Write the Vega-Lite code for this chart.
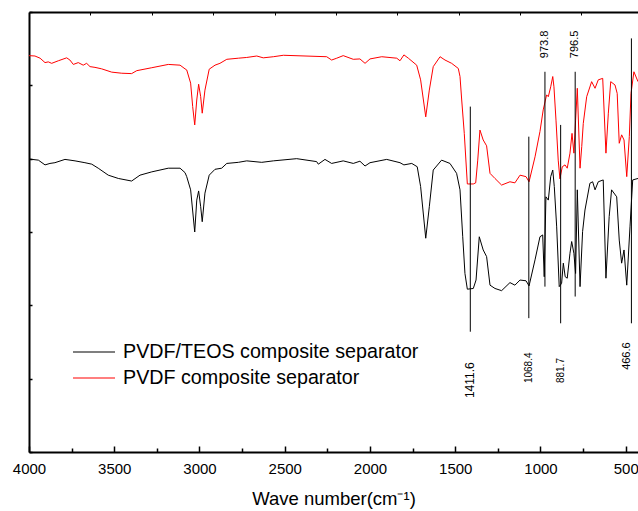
{
  "$schema": "https://vega.github.io/schema/vega-lite/v6.json",
  "width": 609,
  "height": 440,
  "autosize": {"type": "none"},
  "padding": {"left": 29, "top": 12, "right": 0, "bottom": 59},
  "background": "white",
  "config": {
    "view": {"stroke": null},
    "font": "Liberation Sans",
    "axis": {"grid": false, "domainColor": "black", "tickColor": "black", "labelColor": "black", "titleColor": "black"}
  },
  "datasets": {
    "teos": [
      {"wn": 4000, "T": 79.9}, {"wn": 3945, "T": 79.6}, {"wn": 3906, "T": 78.3}, {"wn": 3877, "T": 78.7},
      {"wn": 3848, "T": 78.9}, {"wn": 3789, "T": 79.8}, {"wn": 3730, "T": 79.4}, {"wn": 3672, "T": 78.9},
      {"wn": 3632, "T": 78.5}, {"wn": 3594, "T": 77.4}, {"wn": 3535, "T": 75.5}, {"wn": 3476, "T": 74.6},
      {"wn": 3398, "T": 73.9}, {"wn": 3349, "T": 75.5}, {"wn": 3280, "T": 76.4}, {"wn": 3183, "T": 77.4},
      {"wn": 3114, "T": 77.4}, {"wn": 3085, "T": 76.2}, {"wn": 3075, "T": 75.1}, {"wn": 3052, "T": 71.5},
      {"wn": 3028, "T": 60.0}, {"wn": 3016, "T": 68.7}, {"wn": 3005, "T": 71.2}, {"wn": 2993, "T": 66.9},
      {"wn": 2984, "T": 62.8}, {"wn": 2968, "T": 70.6}, {"wn": 2943, "T": 75.5}, {"wn": 2909, "T": 77.1},
      {"wn": 2870, "T": 77.4}, {"wn": 2840, "T": 78.7}, {"wn": 2772, "T": 79.0}, {"wn": 2723, "T": 79.4},
      {"wn": 2635, "T": 79.0}, {"wn": 2567, "T": 79.4}, {"wn": 2430, "T": 80.0}, {"wn": 2313, "T": 79.2},
      {"wn": 2303, "T": 78.5}, {"wn": 2264, "T": 79.8}, {"wn": 2225, "T": 78.7}, {"wn": 2176, "T": 79.2},
      {"wn": 2157, "T": 79.4}, {"wn": 2098, "T": 78.7}, {"wn": 2059, "T": 79.3}, {"wn": 2029, "T": 78.0},
      {"wn": 2000, "T": 78.9}, {"wn": 1902, "T": 79.8}, {"wn": 1824, "T": 78.9}, {"wn": 1801, "T": 78.3},
      {"wn": 1755, "T": 78.7}, {"wn": 1723, "T": 77.8}, {"wn": 1703, "T": 72.4}, {"wn": 1673, "T": 58.3},
      {"wn": 1652, "T": 66.9}, {"wn": 1629, "T": 76.9}, {"wn": 1580, "T": 79.6}, {"wn": 1531, "T": 78.7},
      {"wn": 1492, "T": 76.0}, {"wn": 1472, "T": 71.5}, {"wn": 1456, "T": 58.7}, {"wn": 1443, "T": 48.7},
      {"wn": 1429, "T": 44.4}, {"wn": 1394, "T": 44.6}, {"wn": 1378, "T": 46.9}, {"wn": 1359, "T": 58.7},
      {"wn": 1336, "T": 55.1}, {"wn": 1316, "T": 53.3}, {"wn": 1296, "T": 45.5}, {"wn": 1267, "T": 44.6},
      {"wn": 1228, "T": 44.0}, {"wn": 1179, "T": 46.2}, {"wn": 1150, "T": 45.5}, {"wn": 1120, "T": 46.9},
      {"wn": 1085, "T": 46.7}, {"wn": 1067, "T": 45.3}, {"wn": 1032, "T": 52.4}, {"wn": 1003, "T": 58.7},
      {"wn": 987, "T": 59.2}, {"wn": 978, "T": 47.8}, {"wn": 968, "T": 69.6}, {"wn": 954, "T": 68.7},
      {"wn": 940, "T": 75.1}, {"wn": 928, "T": 76.9}, {"wn": 919, "T": 72.4}, {"wn": 905, "T": 61.4},
      {"wn": 890, "T": 45.1}, {"wn": 876, "T": 46.0}, {"wn": 866, "T": 51.5}, {"wn": 855, "T": 47.8},
      {"wn": 843, "T": 47.4}, {"wn": 827, "T": 54.2}, {"wn": 817, "T": 57.4}, {"wn": 804, "T": 54.2},
      {"wn": 794, "T": 48.7}, {"wn": 784, "T": 71.5}, {"wn": 768, "T": 45.1}, {"wn": 753, "T": 60.1},
      {"wn": 739, "T": 66.0}, {"wn": 710, "T": 73.3}, {"wn": 694, "T": 73.7}, {"wn": 680, "T": 71.5},
      {"wn": 661, "T": 73.7}, {"wn": 632, "T": 74.2}, {"wn": 616, "T": 47.4}, {"wn": 597, "T": 64.2},
      {"wn": 583, "T": 71.5}, {"wn": 553, "T": 69.6}, {"wn": 538, "T": 57.8}, {"wn": 524, "T": 51.5},
      {"wn": 510, "T": 55.1}, {"wn": 494, "T": 45.5}, {"wn": 475, "T": 61.4}, {"wn": 459, "T": 74.2},
      {"wn": 428, "T": 74.6}
    ],
    "pvdf": [
      {"wn": 4000, "T": 108.1}, {"wn": 3965, "T": 108.0}, {"wn": 3935, "T": 107.4}, {"wn": 3906, "T": 106.2},
      {"wn": 3887, "T": 106.4}, {"wn": 3867, "T": 106.0}, {"wn": 3828, "T": 106.7}, {"wn": 3779, "T": 107.5},
      {"wn": 3760, "T": 106.9}, {"wn": 3740, "T": 105.7}, {"wn": 3711, "T": 106.2}, {"wn": 3682, "T": 105.5},
      {"wn": 3662, "T": 106.0}, {"wn": 3642, "T": 105.1}, {"wn": 3613, "T": 104.9}, {"wn": 3574, "T": 104.5},
      {"wn": 3515, "T": 103.6}, {"wn": 3456, "T": 103.3}, {"wn": 3398, "T": 103.2}, {"wn": 3368, "T": 104.0},
      {"wn": 3280, "T": 104.8}, {"wn": 3183, "T": 105.7}, {"wn": 3114, "T": 105.5}, {"wn": 3085, "T": 104.5},
      {"wn": 3075, "T": 104.2}, {"wn": 3052, "T": 100.6}, {"wn": 3040, "T": 94.2}, {"wn": 3028, "T": 89.2},
      {"wn": 3016, "T": 96.0}, {"wn": 3005, "T": 100.3}, {"wn": 2993, "T": 96.9}, {"wn": 2984, "T": 92.4},
      {"wn": 2968, "T": 98.7}, {"wn": 2943, "T": 104.4}, {"wn": 2909, "T": 105.5}, {"wn": 2880, "T": 106.0},
      {"wn": 2840, "T": 107.1}, {"wn": 2772, "T": 107.4}, {"wn": 2723, "T": 107.6}, {"wn": 2664, "T": 108.0},
      {"wn": 2626, "T": 107.5}, {"wn": 2567, "T": 107.8}, {"wn": 2508, "T": 108.2}, {"wn": 2254, "T": 107.8},
      {"wn": 2225, "T": 106.9}, {"wn": 2195, "T": 107.4}, {"wn": 2157, "T": 108.1}, {"wn": 2098, "T": 107.1},
      {"wn": 2059, "T": 107.2}, {"wn": 2029, "T": 106.0}, {"wn": 2000, "T": 107.2}, {"wn": 1931, "T": 107.8},
      {"wn": 1843, "T": 107.4}, {"wn": 1824, "T": 106.7}, {"wn": 1801, "T": 108.3}, {"wn": 1775, "T": 107.4},
      {"wn": 1726, "T": 105.5}, {"wn": 1703, "T": 101.5}, {"wn": 1673, "T": 91.4}, {"wn": 1652, "T": 98.7},
      {"wn": 1629, "T": 105.1}, {"wn": 1589, "T": 107.8}, {"wn": 1560, "T": 106.9}, {"wn": 1521, "T": 106.0},
      {"wn": 1482, "T": 104.6}, {"wn": 1472, "T": 102.4}, {"wn": 1462, "T": 96.0}, {"wn": 1447, "T": 86.9},
      {"wn": 1429, "T": 73.1}, {"wn": 1394, "T": 73.1}, {"wn": 1380, "T": 73.4}, {"wn": 1368, "T": 79.6},
      {"wn": 1355, "T": 87.8}, {"wn": 1336, "T": 85.1}, {"wn": 1316, "T": 83.5}, {"wn": 1296, "T": 76.0},
      {"wn": 1267, "T": 74.6}, {"wn": 1228, "T": 72.8}, {"wn": 1179, "T": 73.7}, {"wn": 1150, "T": 73.4},
      {"wn": 1120, "T": 75.5}, {"wn": 1085, "T": 75.1}, {"wn": 1067, "T": 73.7}, {"wn": 1032, "T": 80.5},
      {"wn": 1003, "T": 87.4}, {"wn": 984, "T": 93.3}, {"wn": 964, "T": 97.4}, {"wn": 954, "T": 96.9},
      {"wn": 940, "T": 99.6}, {"wn": 928, "T": 102.4}, {"wn": 921, "T": 99.6}, {"wn": 909, "T": 90.5},
      {"wn": 896, "T": 79.6}, {"wn": 886, "T": 74.5}, {"wn": 872, "T": 77.8}, {"wn": 856, "T": 78.3},
      {"wn": 843, "T": 77.4}, {"wn": 827, "T": 81.5}, {"wn": 815, "T": 86.9}, {"wn": 804, "T": 81.5},
      {"wn": 794, "T": 90.5}, {"wn": 784, "T": 99.2}, {"wn": 768, "T": 77.4}, {"wn": 758, "T": 83.3},
      {"wn": 749, "T": 89.6}, {"wn": 729, "T": 96.9}, {"wn": 700, "T": 101.0}, {"wn": 680, "T": 99.2},
      {"wn": 661, "T": 101.5}, {"wn": 635, "T": 101.9}, {"wn": 616, "T": 81.5}, {"wn": 602, "T": 92.4},
      {"wn": 588, "T": 101.0}, {"wn": 563, "T": 100.1}, {"wn": 550, "T": 97.8}, {"wn": 538, "T": 84.2},
      {"wn": 524, "T": 86.5}, {"wn": 510, "T": 85.1}, {"wn": 494, "T": 75.1}, {"wn": 479, "T": 86.0},
      {"wn": 469, "T": 97.8}, {"wn": 452, "T": 103.7}, {"wn": 428, "T": 101.0}
    ],
    "peaks": [
      {"label": "1411.6", "wn": 1411.6, "top": 94.2, "bottom": 32.8, "labelY": 14.7},
      {"label": "1068.4", "wn": 1068.4, "top": 86.0, "bottom": 36.5, "labelY": 18.8},
      {"label": "973.8", "wn": 973.8, "top": 103.7, "bottom": 45.1, "labelY": 107.4},
      {"label": "881.7", "wn": 881.7, "top": 89.2, "bottom": 35.1, "labelY": 18.8},
      {"label": "796.5", "wn": 796.5, "top": 103.7, "bottom": 42.4, "labelY": 107.4},
      {"label": "466.6", "wn": 466.6, "top": 112.8, "bottom": 35.1, "labelY": 22.4}
    ]
  },
  "layer": [
    {
      "data": {"name": "teos"},
      "mark": {"type": "line", "strokeWidth": 1, "clip": true},
      "encoding": {
        "x": {"field": "wn", "type": "quantitative",
          "scale": {"domain": [428, 4000], "reverse": true, "nice": false, "zero": false},
          "axis": {"orient": "bottom", "values": [4000, 3500, 3000, 2500, 2000, 1500, 1000, 500], "format": "d",
            "tickSize": -6, "tickWidth": 1.5, "domainWidth": 2, "labelFontSize": 15, "labelPadding": 15,
            "labelFlush": false, "labelOverlap": false, "labelBound": false, "labelFont": "Liberation Sans",
            "title": "Wave number(cm⁻¹)", "titleFontSize": 18.5, "titleFontWeight": "normal", "titleFont": "Liberation Sans", "titlePadding": 13}},
        "y": {"field": "T", "type": "quantitative",
          "scale": {"domain": [0, 120], "nice": false, "zero": false},
          "axis": {"orient": "left", "values": [0, 20, 40, 60, 80, 100, 120], "tickSize": -3, "tickWidth": 1.5,
            "labels": false, "title": null, "domainWidth": 2}},
        "color": {"datum": "PVDF/TEOS composite separator", "type": "nominal",
          "scale": {"domain": ["PVDF/TEOS composite separator", "PVDF composite separator"], "range": ["#000000", "#ff0000"]},
          "legend": {"orient": "none", "legendX": 43, "legendY": 327, "title": null, "symbolType": "stroke",
            "symbolSize": 1764, "symbolStrokeWidth": 1.2, "clipHeight": 26, "rowPadding": 0, "padding": 0,
            "labelOffset": 7, "labelLimit": 500, "labelFontSize": 19.7, "labelFont": "Liberation Sans", "labelColor": "black"}}
      }
    },
    {
      "data": {"name": "pvdf"},
      "mark": {"type": "line", "strokeWidth": 1, "clip": true},
      "encoding": {
        "x": {"field": "wn", "type": "quantitative", "scale": {"domain": [428, 4000], "reverse": true, "nice": false, "zero": false}, "axis": null},
        "y": {"field": "T", "type": "quantitative", "scale": {"domain": [0, 120], "nice": false, "zero": false}, "axis": null},
        "color": {"datum": "PVDF composite separator", "type": "nominal",
          "scale": {"domain": ["PVDF/TEOS composite separator", "PVDF composite separator"], "range": ["#000000", "#ff0000"]}}
      }
    },
    {
      "data": {"name": "peaks"},
      "mark": {"type": "rule", "strokeWidth": 1, "color": "black"},
      "encoding": {
        "x": {"field": "wn", "type": "quantitative", "scale": {"domain": [428, 4000], "reverse": true, "nice": false, "zero": false},
          "axis": {"orient": "bottom", "values": [3750, 3250, 2750, 2250, 1750, 1250, 750], "tickSize": -4, "tickWidth": 1.5,
            "labels": false, "domain": false, "title": null}},
        "y": {"field": "top", "type": "quantitative", "scale": {"domain": [0, 120], "nice": false, "zero": false}, "axis": null},
        "y2": {"field": "bottom"}
      }
    },
    {
      "data": {"name": "peaks"},
      "transform": [{"filter": "datum.label == '973.8' || datum.label == '796.5'"}],
      "mark": {"type": "text", "angle": 270, "align": "left", "baseline": "middle", "fontSize": 11, "font": "Liberation Sans", "color": "black"},
      "encoding": {
        "x": {"field": "wn", "type": "quantitative", "scale": {"domain": [428, 4000], "reverse": true, "nice": false, "zero": false},
          "axis": {"orient": "top", "values": [3640, 3280, 2920, 2560, 2200, 1840, 1480, 1120, 760], "tickSize": -3, "tickWidth": 1,
            "labels": false, "title": null, "domainWidth": 2}},
        "y": {"field": "labelY", "type": "quantitative", "scale": {"domain": [0, 120], "nice": false, "zero": false}, "axis": null},
        "text": {"field": "label"}
      }
    },
    {
      "data": {"name": "peaks"},
      "transform": [{"filter": "datum.label == '1411.6'"}],
      "mark": {"type": "text", "angle": 270, "align": "left", "baseline": "middle", "fontSize": 12, "font": "Liberation Sans", "color": "black"},
      "encoding": {
        "x": {"field": "wn", "type": "quantitative", "scale": {"domain": [428, 4000], "reverse": true, "nice": false, "zero": false}, "axis": null},
        "y": {"field": "labelY", "type": "quantitative", "scale": {"domain": [0, 120], "nice": false, "zero": false}, "axis": null},
        "text": {"field": "label"}
      }
    },
    {
      "data": {"name": "peaks"},
      "transform": [{"filter": "datum.label == '1068.4' || datum.label == '881.7'"}],
      "mark": {"type": "text", "angle": 270, "align": "left", "baseline": "middle", "fontSize": 10, "font": "Liberation Sans", "color": "black"},
      "encoding": {
        "x": {"field": "wn", "type": "quantitative", "scale": {"domain": [428, 4000], "reverse": true, "nice": false, "zero": false}, "axis": null},
        "y": {"field": "labelY", "type": "quantitative", "scale": {"domain": [0, 120], "nice": false, "zero": false}, "axis": null},
        "text": {"field": "label"}
      }
    },
    {
      "data": {"name": "peaks"},
      "transform": [{"filter": "datum.label == '466.6'"}],
      "mark": {"type": "text", "angle": 270, "align": "left", "baseline": "middle", "fontSize": 11, "dy": -4, "font": "Liberation Sans", "color": "black"},
      "encoding": {
        "x": {"field": "wn", "type": "quantitative", "scale": {"domain": [428, 4000], "reverse": true, "nice": false, "zero": false}, "axis": null},
        "y": {"field": "labelY", "type": "quantitative", "scale": {"domain": [0, 120], "nice": false, "zero": false}, "axis": null},
        "text": {"field": "label"}
      }
    }
  ],
  "resolve": {"axis": {"x": "independent", "y": "independent"}}
}
